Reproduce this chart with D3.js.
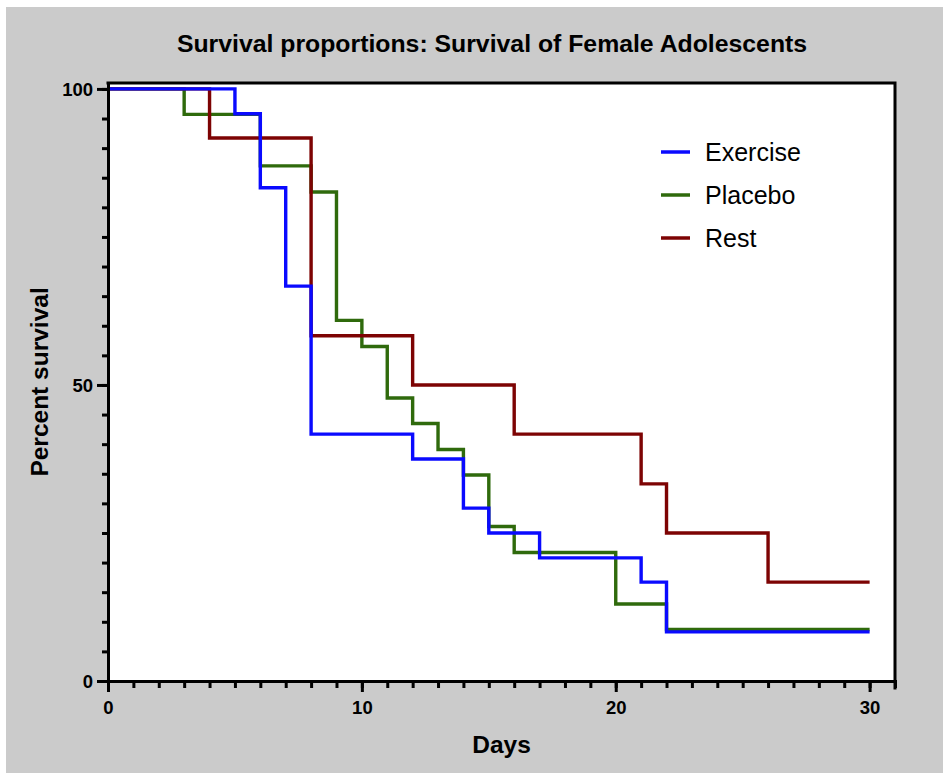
<!DOCTYPE html>
<html>
<head>
<meta charset="utf-8">
<script src="https://cdn.jsdelivr.net/npm/d3@7"></script>
<style>
    html, body { margin: 0; padding: 0; background: #ffffff; }
    svg { display: block; font-family: "Liberation Sans", Arial, sans-serif; }
</style>
</head>
<body>
<div id="chart"></div>
<script>
// Kaplan-Meier step values (percent survival)
const exerciseDays = [0, 5, 6, 7, 8, 12, 14, 15, 17, 21, 22, 30];
const exerciseSurv = [100, 95.8, 83.3, 66.7, 41.7, 37.5, 29.2, 25, 20.8, 16.7, 8.3, 8.3];

const placeboDays = [0, 3, 6, 8, 9, 10, 11, 12, 13, 14, 15, 16, 20, 22, 30];
const placeboSurv = [100, 95.7, 87, 82.6, 60.9, 56.5, 47.8, 43.5, 39.1, 34.8, 26.1, 21.7, 13, 8.7, 8.7];

const restDays = [0, 4, 8, 12, 16, 21, 22, 26, 30];
const restSurv = [100, 91.7, 58.3, 50, 41.7, 33.3, 25, 16.7, 16.7];

const seriesNames = ["Exercise", "Placebo", "Rest"];
const xTickLabels = [0, 10, 20, 30];
const yTickLabels = [0, 50, 100];

const colors = { Exercise: "#0a0aff", Placebo: "#2f6a0c", Rest: "#7d0303" };

const width = 943, height = 773;

const svg = d3.select("#chart")
    .append("svg")
    .attr("width", width)
    .attr("height", height);

// gray card behind everything
svg.append("rect")
    .attr("x", 6).attr("y", 7)
    .attr("width", width - 6).attr("height", height - 7)
    .attr("fill", "#cbcbcb");

const xScale = d3.scaleLinear().domain([0, 31]).range([108, 895]);
const yScale = d3.scaleLinear().domain([0, 101]).range([681, 83]);

// plot area
svg.append("rect")
    .attr("x", xScale(0)).attr("y", yScale(101))
    .attr("width", xScale(31) - xScale(0))
    .attr("height", yScale(0) - yScale(101))
    .attr("fill", "#ffffff");

// title
svg.append("text")
    .attr("x", 492).attr("y", 52)
    .attr("text-anchor", "middle")
    .attr("font-size", 24.8)
    .attr("font-weight", "bold")
    .text("Survival proportions: Survival of Female Adolescents");

// series lines (green, then red, blue on top)
const line = d3.line()
    .x(d => xScale(d[0]))
    .y(d => yScale(d[1]))
    .curve(d3.curveStepAfter);

const series = [
    { name: "Placebo", days: placeboDays, surv: placeboSurv },
    { name: "Rest", days: restDays, surv: restSurv },
    { name: "Exercise", days: exerciseDays, surv: exerciseSurv }
];

svg.append("g")
    .selectAll("path")
    .data(series)
    .join("path")
    .attr("d", s => line(s.days.map((d, i) => [d, s.surv[i]])))
    .attr("fill", "none")
    .attr("stroke", s => colors[s.name])
    .attr("stroke-width", 3.4)
    .attr("stroke-linejoin", "miter");

// axes
function styleAxis(g) {
    g.select(".domain").attr("stroke", "#000").attr("stroke-width", 3).attr("stroke-linecap", "square");
    g.selectAll(".tick line").attr("stroke", "#000").attr("stroke-width", 3);
    g.selectAll(".tick text")
        .attr("font-family", "'Liberation Sans', Arial, sans-serif")
        .attr("font-size", 18.5)
        .attr("font-weight", "bold")
        .attr("fill", "#000");
}

// y minor
svg.append("g")
    .attr("transform", `translate(${xScale(0)},0)`)
    .call(d3.axisLeft(yScale).tickValues(d3.range(0, 101, 5)).tickSize(6).tickSizeOuter(0).tickFormat(""))
    .call(styleAxis);
// y major
svg.append("g")
    .attr("transform", `translate(${xScale(0)},0)`)
    .call(d3.axisLeft(yScale).tickValues(yTickLabels).tickSize(11).tickPadding(4).tickSizeOuter(0))
    .call(styleAxis)
    .call(g => g.selectAll(".tick text").attr("dy", "0.36em"));

// x minor
svg.append("g")
    .attr("transform", `translate(0,${yScale(0)})`)
    .call(d3.axisBottom(xScale).tickValues(d3.range(0, 32, 1)).tickSize(7).tickSizeOuter(0).tickFormat(""))
    .call(styleAxis);
// x major
svg.append("g")
    .attr("transform", `translate(0,${yScale(0)})`)
    .call(d3.axisBottom(xScale).tickValues(xTickLabels).tickSize(11).tickPadding(9).tickSizeOuter(0))
    .call(styleAxis);

// top and right frame
svg.append("path")
    .attr("d", `M${xScale(0)},${yScale(101)}H${xScale(31)}V${yScale(0) + 7}`)
    .attr("fill", "none")
    .attr("stroke", "#000")
    .attr("stroke-width", 3)
    .attr("stroke-linecap", "square");

// axis titles
svg.append("text")
    .attr("x", xScale(15.5)).attr("y", 753)
    .attr("text-anchor", "middle")
    .attr("font-size", 24.5)
    .attr("font-weight", "bold")
    .text("Days");

svg.append("text")
    .attr("transform", `translate(48,${yScale(50) - 3}) rotate(-90)`)
    .attr("text-anchor", "middle")
    .attr("font-size", 24.5)
    .attr("font-weight", "bold")
    .text("Percent survival");

// legend
const legend = svg.append("g")
    .selectAll("g")
    .data(seriesNames)
    .join("g")
    .attr("transform", (d, i) => `translate(661,${152 + i * 43})`);

legend.append("line")
    .attr("x1", 0).attr("x2", 29)
    .attr("stroke", d => colors[d])
    .attr("stroke-width", 3.5);

legend.append("text")
    .attr("x", 44).attr("dy", "0.36em")
    .attr("font-size", 25)
    .text(d => d);
</script>
</body>
</html>
